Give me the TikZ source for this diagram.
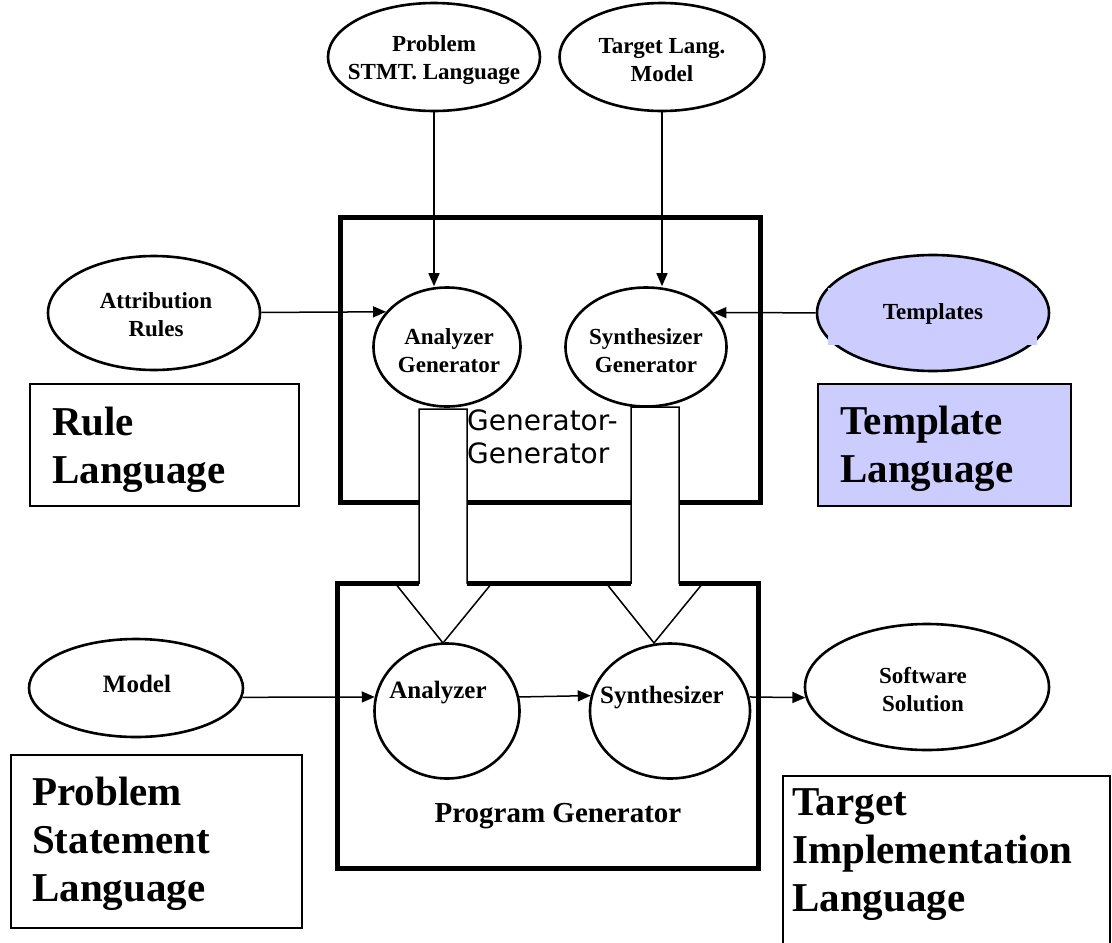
\documentclass[tikz,border=0pt]{standalone}
\usepackage{fontspec}
\setmainfont{Liberation Serif}
\newfontfamily\gsans{DejaVu Sans}
\usetikzlibrary{shapes.geometric,arrows.meta}
\definecolor{lav}{HTML}{CCCCFF}
\begin{document}
\begin{tikzpicture}[x=1pt,y=-1pt,
  ell/.style={ellipse, draw, line width=2.6pt, inner sep=0pt, fill=white},
  lbl/.style={font=\fontsize{23}{28}\selectfont\bfseries, align=center, inner sep=0pt},
  lblb/.style={font=\fontsize{25}{30}\selectfont\bfseries, align=center, inner sep=0pt},
  big/.style={font=\fontsize{41}{48}\selectfont\bfseries, inner sep=0pt, anchor=base west},
  frame/.style={draw, line width=5pt},
  tbox/.style={draw, line width=1.5pt},
  arr/.style={-{Triangle[length=13pt,width=11pt]}, line width=1.5pt},
  hollow/.style={draw, fill=white, line width=1.5pt, line join=miter}]
\useasboundingbox (0,0) rectangle (1112,943);
\fill[white] (0,0) rectangle (1112,943);

% top ellipses
\node[ell, minimum width=212pt, minimum height=108pt] (psl) at (434,57) {};
\node[lbl] (psl-t) at (434,60) {Problem\\STMT. Language};
\node[ell, minimum width=205pt, minimum height=108pt] (tlm) at (662,57) {};
\node[lbl] (tlm-t) at (662,60) {Target Lang.\\Model};

% generator-generator frame
\draw[frame] (340,217) rectangle (760,502);

% side ellipses
\node[ell, minimum width=212pt, minimum height=114pt] (attr) at (154,313) {};
\node[lbl] (attr-t) at (156,315) {Attribution\\Rules};
\node[ell, fill=lav, minimum width=232pt, minimum height=116pt] (tmpl) at (933,313) {};
\fill[lav] (828,288) rectangle (1037,345);
\node[lbl] (tmpl-t) at (933,314) {Templates};

% generator ellipses
\node[ell, minimum width=147pt, minimum height=119pt] (ag) at (447,347) {};
\node[lbl] (ag-t) at (449,351) {Analyzer\\Generator};
\node[ell, minimum width=161pt, minimum height=119pt] (sg) at (646,347) {};
\node[lbl] (sg-t) at (646,351) {Synthesizer\\Generator};

% language boxes
\draw[tbox] (30,384) rectangle (299,506);
\node[big] (rl-t) at (52,435) {\vtop{\hbox{Rule}\hbox{Language}}};
\draw[tbox, fill=lav] (818,384) rectangle (1071,506);
\node[big] (tl-t) at (840,434) {\vtop{\hbox{Template}\hbox{Language}}};

% generator-generator label
\node[font=\gsans\fontsize{28}{33}\selectfont, inner sep=0pt, anchor=base west] (gg-t)
  at (467,430) {\vtop{\hbox{Generator-}\hbox{Generator}}};

% hollow arrows
\draw[hollow] (419,409) -- (467,409) -- (467,583) -- (492,583) -- (443,643) -- (395,583) -- (419,583) -- cycle;
\draw[hollow] (631,407) -- (679,407) -- (679,583) -- (703,583) -- (654,643) -- (606,583) -- (631,583) -- cycle;

% program generator frame (top broken by the shafts)
\draw[frame] (419,583) -- (337,583) -- (337,868) -- (758,868) -- (758,583) -- (679,583);
\draw[frame] (467,583) -- (631,583);
\node[font=\fontsize{29}{34}\selectfont\bfseries, inner sep=0pt, anchor=base] (pg-t) at (558,822) {Program Generator};

% lower ellipses
\node[ell, minimum width=145pt, minimum height=135pt] (an) at (447,711) {};
\node[lblb] (an-t) at (438,693) {Analyzer};
\node[ell, minimum width=160pt, minimum height=135pt] (sy) at (670,711) {};
\node[lblb] (sy-t) at (662,698) {Synthesizer};
\node[ell, minimum width=214pt, minimum height=98pt] (model) at (136,688) {};
\node[lblb] (model-t) at (137,684) {Model};
\node[ell, minimum width=244pt, minimum height=126pt] (sw) at (927,687) {};
\node[lbl] (sw-t) at (923,690) {Software\\Solution};

% lower language boxes
\draw[tbox] (11,755) rectangle (302,928);
\node[big] (ps-t) at (32,805) {\vtop{\hbox{Problem}\hbox{Statement}\hbox{Language}}};
\draw[tbox] (783,943) -- (783,776) -- (1110,776) -- (1110,943);
\node[big] (ti-t) at (792,815) {\vtop{\hbox{Target}\hbox{Implementation}\hbox{Language}}};

% connectors
\draw[arr] (psl) -- (psl |- ag.north);
\draw[arr] (tlm) -- (tlm |- sg.north);
\draw[arr] (attr) -- (ag.150.6);
\draw[arr] (tmpl) -- (sg.27.3);
\draw[arr] (model.-5.5) -- (an.169.6);
\draw[arr] (an.11.2) -- (sy.169.9);
\draw[arr] (sy.10.1) -- (sw.185.2);
\end{tikzpicture}
\end{document}
